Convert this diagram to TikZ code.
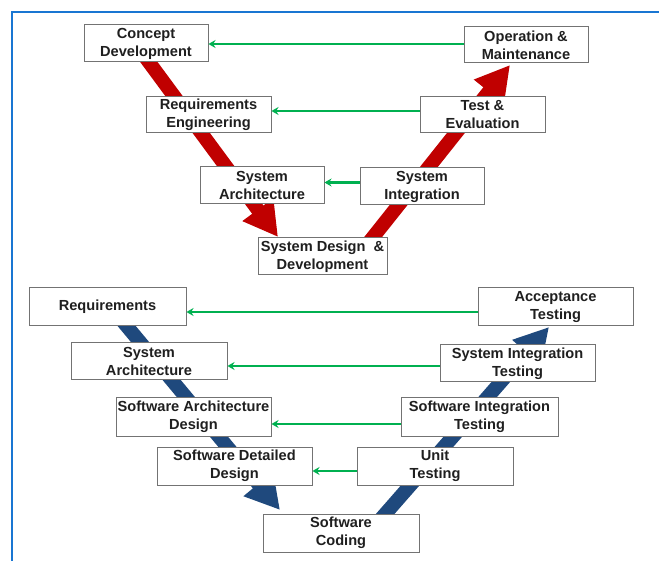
\documentclass[tikz,border=0pt]{standalone}
\usepackage{fontspec}
\setmainfont{Liberation Sans}
\usetikzlibrary{arrows.meta}
\definecolor{vred}{RGB}{192,0,0}
\definecolor{vblue}{RGB}{31,73,125}
\definecolor{vgreen}{RGB}{0,176,80}
\definecolor{frameblue}{RGB}{25,118,210}

\begin{document}
\begin{tikzpicture}[x=1pt,y=-1pt,
    box/.style={draw=black!55,line width=1pt,fill=white,align=center,
      font=\fontsize{14.6}{18}\selectfont\bfseries,text=black!88,
      inner sep=0pt,minimum height=37pt},
    band/.style={line width=14pt,-{Triangle[width=36pt,length=34pt]}},
    back/.style={vgreen,line width=2.8pt,-{Stealth[length=7pt,width=8pt]}}]
    \useasboundingbox (0,0) rectangle (659,561);
    \draw[frameblue,line width=2pt] (12,561)--(12,12.5)--(659,12.5);
    % V bands
    \coordinate (r1s) at (140,50);
    \coordinate (r1e) at (278,237);
    \coordinate (r2s) at (366,246);
    \coordinate (r2e) at (510,65);
    \coordinate (b1s) at (120,318);
    \coordinate (b1e) at (280,510);
    \coordinate (b2s) at (379,521);
    \coordinate (b2e) at (549,327);
    \draw[band,vred] (r1s)--(r1e);
    \draw[band,vred] (r2s)--(r2e);
    \draw[band,vblue] (b1s)--(b1e);
    \draw[band,vblue] (b2s)--(b2e);
    % system V
    \node[box,minimum width=124pt] (cd) at (146,43.5) {Concept\\Development};
    \node[box,minimum width=124pt,minimum height=36pt] (om) at (526,45) {Operation \&\\Maintenance};
    \node[box,minimum width=125pt,minimum height=36pt] (re) at (208.5,115) {Requirements\\Engineering};
    \node[box,minimum width=125pt,minimum height=36pt] (te) at (482.5,115) {Test \&\\Evaluation};
    \node[box,minimum width=124pt] (sa) at (262,185.5) {System\\Architecture};
    \node[box,minimum width=124pt] (si) at (422,186.5) {System\\Integration};
    \node[box,minimum width=129pt] (sd) at (322.5,256.5) {System Design \ \&\\Development};
    % software V
    \node[box,minimum width=157pt,minimum height=38pt] (rq) at (107.5,307) {Requirements};
    \node[box,minimum width=155pt,minimum height=38pt] (at) at (555.5,307) {Acceptance\\Testing};
    \node[box,minimum width=156pt] (swsa) at (149,361.5) {System\\Architecture};
    \node[box,minimum width=155pt] (sit) at (517.5,363.5) {System Integration\\Testing};
    \node[box,minimum width=155pt,minimum height=38pt] (swad) at (193.5,417) {Software Architecture\\Design};
    \node[box,minimum width=157pt,minimum height=38pt] (swit) at (479.5,417) {Software Integration\\Testing};
    \node[box,minimum width=155pt,minimum height=38pt] (sdd) at (234.5,466) {Software Detailed\\Design};
    \node[box,minimum width=156pt,minimum height=38pt] (ut) at (435,466) {Unit\\Testing};
    \node[box,minimum width=156pt,minimum height=38pt] (sc) at (341,533) {Software\\Coding};
    % green feedback arrows
    \draw[back] ([yshift=1pt]om.west)--([yshift=1pt]om.west -| cd.east);
    \draw[back] ([yshift=4pt]te.west)--([yshift=4pt]te.west -| re.east);
    \draw[back] ([yshift=4pt]si.west)--([yshift=4pt]si.west -| sa.east);
    \draw[back] ([yshift=-5pt]at.west)--([yshift=-5pt]at.west -| rq.east);
    \draw[back] ([yshift=-2.5pt]sit.west)--([yshift=-2.5pt]sit.west -| swsa.east);
    \draw[back] ([yshift=-7pt]swit.west)--([yshift=-7pt]swit.west -| swad.east);
    \draw[back] ([yshift=-5pt]ut.west)--([yshift=-5pt]ut.west -| sdd.east);
\end{tikzpicture}
\end{document}
